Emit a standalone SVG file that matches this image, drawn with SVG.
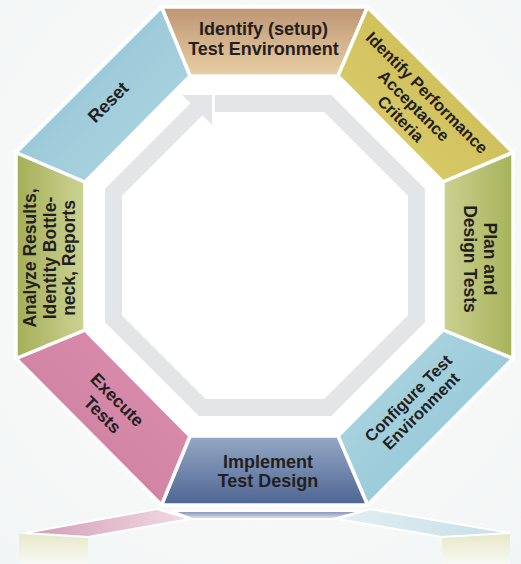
<svg xmlns="http://www.w3.org/2000/svg" width="521" height="564" viewBox="0 0 521 564">
<defs>
<radialGradient id="bg" cx="0.5" cy="0.45" r="0.75">
<stop offset="0" stop-color="#ffffff"/><stop offset="1" stop-color="#f2f5f5"/>
</radialGradient>
<linearGradient id="gTan" x1="0" y1="0" x2="0" y2="1"><stop offset="0" stop-color="#bd9574"/><stop offset="1" stop-color="#e8cfa3"/></linearGradient>
<linearGradient id="gYel" x1="1" y1="0" x2="0" y2="1"><stop offset="0" stop-color="#c6b44c"/><stop offset="1" stop-color="#ded272"/></linearGradient>
<linearGradient id="gGrR" x1="1" y1="0" x2="0" y2="0"><stop offset="0" stop-color="#a7b35a"/><stop offset="1" stop-color="#cad190"/></linearGradient>
<linearGradient id="gBlR" x1="1" y1="1" x2="0" y2="0"><stop offset="0" stop-color="#8bc2d5"/><stop offset="1" stop-color="#b3d8e1"/></linearGradient>
<linearGradient id="gDk" x1="0" y1="1" x2="0" y2="0"><stop offset="0" stop-color="#4e6593"/><stop offset="1" stop-color="#95a8c4"/></linearGradient>
<linearGradient id="gPk" x1="0" y1="1" x2="1" y2="0"><stop offset="0" stop-color="#ad5c83"/><stop offset="0.45" stop-color="#d385a5"/><stop offset="1" stop-color="#dc8fad"/></linearGradient>
<linearGradient id="gGrL" x1="0" y1="0" x2="1" y2="0"><stop offset="0" stop-color="#a4af58"/><stop offset="1" stop-color="#ccd393"/></linearGradient>
<linearGradient id="gBlL" x1="0" y1="0" x2="1" y2="1"><stop offset="0" stop-color="#8cbfd3"/><stop offset="1" stop-color="#b3d8e2"/></linearGradient>
<linearGradient id="rPk" x1="0" y1="0" x2="1" y2="0"><stop offset="0" stop-color="#d29bb4"/><stop offset="1" stop-color="#f2dbe4"/></linearGradient>
<linearGradient id="rDk" x1="0" y1="0" x2="0" y2="1"><stop offset="0" stop-color="#7b8db0"/><stop offset="1" stop-color="#e4e8f0"/></linearGradient>
<linearGradient id="rBl" x1="0" y1="0" x2="1" y2="0"><stop offset="0" stop-color="#e2eff3"/><stop offset="1" stop-color="#c6dfe7"/></linearGradient>
<linearGradient id="rGr" x1="0" y1="0" x2="0" y2="1"><stop offset="0" stop-color="#e6e9c9"/><stop offset="1" stop-color="#f8f9f4"/></linearGradient>
</defs>
<style>
.seg{stroke:#ffffff;stroke-width:3.5;stroke-linejoin:round}
.lbl{font-family:"Liberation Sans",Arial,sans-serif;font-weight:bold;fill:#231f20;text-anchor:middle}
.ring{fill:none;stroke:#e4e5e7;stroke-width:17;stroke-linejoin:miter}
.refl{stroke:#ffffff;stroke-width:2}
</style>
<rect x="0" y="0" width="521" height="564" fill="url(#bg)"/>
<polygon points="161.5,7 367.5,7 513,152.5 513,358.5 367.5,505 161.5,505 16,358.5 16,152.5" fill="#ffffff"/>

<g id="reflection">
<polygon class="refl" points="25,533 157,509 190,519 88,537" fill="url(#rPk)"/>
<polygon class="refl" points="172,511 363,511 333,519 192,519" fill="url(#rDk)"/>
<polygon class="refl" points="370,509 510,533 442,537 337,519" fill="url(#rBl)"/>
<polygon points="19,534 88,538 88,564 19,564" fill="url(#rGr)"/>
<polygon points="442,538 510,534 510,564 442,564" fill="url(#rGr)"/>
</g>

<g id="connectors">
<path class="ring" d="M215,103.5 H327.8 L416.5,192.3 V318.7 L327.8,407.5 H202.2 L113.5,318.7 V192.3 L197,108.8"/>
<polygon points="182,95 212,95 212,125" fill="#e4e5e7"/>
</g>

<g id="node-identify-setup">
<polygon class="seg" points="161.5,7 367.5,7 338,76 190,76" fill="url(#gTan)"/>
<text class="lbl" font-size="18"><tspan x="263.5" y="35">Identify (setup)</tspan><tspan x="263.5" y="54.5">Test Environment</tspan></text>
</g>

<g id="node-acceptance">
<polygon class="seg" points="367.5,7 513,152.5 443,182 338,76" fill="url(#gYel)"/>
<text class="lbl" font-size="16.5" transform="translate(414,105.5) rotate(45)"><tspan x="0" y="-12.5">Identify Performance</tspan><tspan x="0" y="6">Acceptance</tspan><tspan x="0" y="24.5">Criteria</tspan></text>
</g>

<g id="node-plan">
<polygon class="seg" points="513,152.5 513,358.5 443,330 443,182" fill="url(#gGrR)"/>
<text class="lbl" font-size="17.5" transform="translate(480,259) rotate(90)"><tspan x="0" y="-3.7">Plan and</tspan><tspan x="0" y="16.3">Design Tests</tspan></text>
</g>

<g id="node-configure">
<polygon class="seg" points="513,358.5 367.5,505 338,436 443,330" fill="url(#gBlR)"/>
<text class="lbl" font-size="16.5" transform="translate(414.5,404.5) rotate(-45)"><tspan x="0" y="-3.1">Configure Test</tspan><tspan x="0" y="14.9">Environment</tspan></text>
</g>

<g id="node-implement">
<polygon class="seg" points="367.5,505 161.5,505 190,436 338,436" fill="url(#gDk)"/>
<text class="lbl" font-size="18"><tspan x="268" y="468">Implement</tspan><tspan x="268" y="487">Test Design</tspan></text>
</g>

<g id="node-execute">
<polygon class="seg" points="161.5,505 16,358.5 85,330 190,436" fill="url(#gPk)"/>
<text class="lbl" font-size="17.5" transform="translate(110,407) rotate(45)"><tspan x="0" y="-4.2">Execute</tspan><tspan x="0" y="16.8">Tests</tspan></text>
</g>

<g id="node-analyze">
<polygon class="seg" points="16,358.5 16,152.5 85,182 85,330" fill="url(#gGrL)"/>
<text class="lbl" font-size="17.5" transform="translate(49.5,258) rotate(-90)"><tspan x="0" y="-13.2">Analyze Results,</tspan><tspan x="0" y="6.3">Identity Bottle-</tspan><tspan x="0" y="25.8">neck, Reports</tspan></text>
</g>

<g id="node-reset">
<polygon class="seg" points="16,152.5 161.5,7 190,76 85,182" fill="url(#gBlL)"/>
<text class="lbl" font-size="18" transform="translate(108,102) rotate(-45)"><tspan x="0" y="6.4">Reset</tspan></text>
</g>
</svg>
